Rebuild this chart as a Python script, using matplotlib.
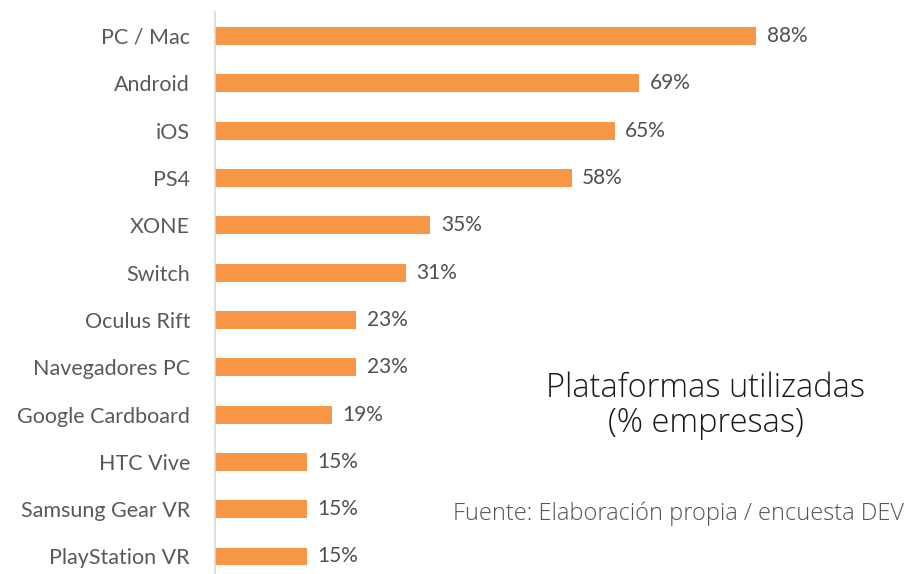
import matplotlib.pyplot as plt
import matplotlib as mpl

mpl.rcParams['font.family'] = ['Lato', 'DejaVu Sans']

platforms = ['PC / Mac', 'Android', 'iOS', 'PS4', 'XONE', 'Switch', 'Oculus Rift',
             'Navegadores PC', 'Google Cardboard', 'HTC Vive', 'Samsung Gear VR',
             'PlayStation VR']
values = [88, 69, 65, 58, 35, 31, 23, 23, 19, 15, 15, 15]

fig = plt.figure(figsize=(9.06, 5.74), dpi=100)
# axes placed in pixel terms: left edge at x=215, top at y=12
ax = fig.add_axes([215 / 906, 0, (906 - 215) / 906, (574 - 12) / 574])

pos = list(range(len(platforms)))
ax.barh(pos, values, height=0.38, color='#F79646')

for p, v in zip(pos, values):
    ax.text(v + 1.7, p, f'{v}%', va='center', ha='left', fontsize=15, color='#505050')

ax.set_yticks(pos)
ax.set_yticklabels(platforms, fontsize=15.5, color='#595959')
ax.tick_params(axis='y', length=0, pad=18)
ax.set_xticks([])
ax.set_xlim(0, (906 - 215) / 6.15)
ax.set_ylim(11.37, -0.507)

for s in ['top', 'right', 'bottom']:
    ax.spines[s].set_visible(False)
ax.spines['left'].set_color('#D9D9D9')
ax.spines['left'].set_linewidth(1.2)

fig.text(706 / 906, 1 - 406 / 574, 'Plataformas utilizadas\n(% empresas)', ha='center', va='center',
         fontsize=23.5, color='#1a1a1a', family=['Open Sans', 'DejaVu Sans'], fontweight='light',
         linespacing=1.05)
fig.text(904 / 906, 1 - 514 / 574, 'Fuente: Elaboración propia / encuesta DEV', ha='right', va='center',
         fontsize=17, color='#555555', family=['Open Sans', 'DejaVu Sans'], fontweight='light')

plt.savefig('out.png', dpi=100)
